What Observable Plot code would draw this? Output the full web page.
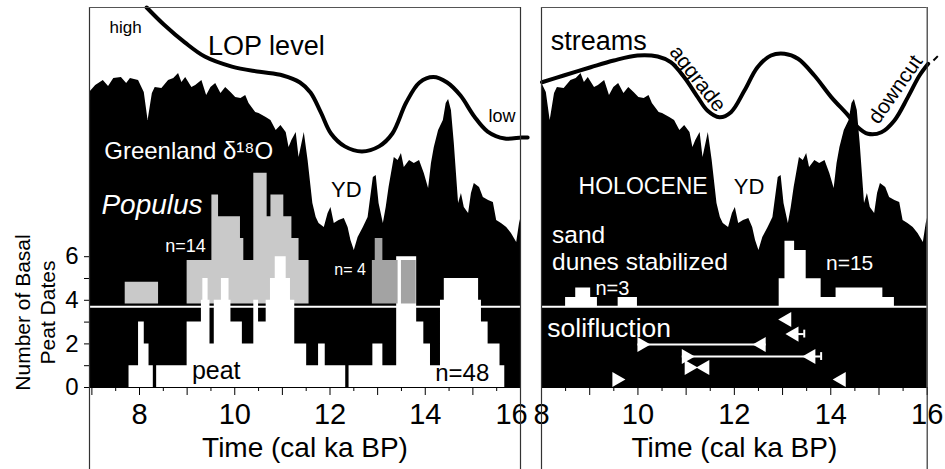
<!DOCTYPE html>
<html><head><meta charset="utf-8">
<script src="https://cdn.jsdelivr.net/npm/d3@7"></script>
<script src="https://cdn.jsdelivr.net/npm/@observablehq/plot@0.6"></script>
<style>
body{margin:0;background:#fff;}
#wrap{position:relative;width:945px;height:469px;overflow:hidden;background:#fff;}
#left,#right{position:absolute;top:0;}
#left{left:0;width:530px;} #right{left:530px;width:415px;}
</style></head><body><div id="wrap"><div id="left"></div><div id="right"></div></div>
<script>
// ---------- data ----------
// Greenland δ18O (drawn as relative height, same units as the count axis)
const greenlandAge = [6.95,7.08,7.24,7.35,7.46,7.62,7.73,7.81,7.98,8.10,8.18,8.27,8.33,8.47,8.61,8.72,8.82,8.89,8.97,9.10,9.18,9.31,9.41,9.50,9.60,9.71,9.81,9.92,10.02,10.13,10.23,10.30,10.44,10.51,10.66,10.76,10.87,10.97,11.08,11.14,11.20,11.29,11.35,11.46,11.54,11.64,11.71,11.77,11.88,11.96,12.02,12.09,12.19,12.30,12.38,12.44,12.51,12.59,12.70,12.80,12.91,12.97,13.03,13.12,13.18,13.24,13.35,13.43,13.50,13.56,13.67,13.77,13.88,13.98,14.07,14.13,14.19,14.28,14.38,14.44,14.49,14.55,14.61,14.70,14.76,14.82,14.91,14.97,15.03,15.14,15.22,15.33,15.43,15.50,15.60,15.71,15.81,15.92,15.98,16.02];
const greenlandTop = [13.53,13.85,14.08,13.81,14.17,14.22,13.94,14.17,14.08,13.53,12.25,13.49,13.76,13.72,14.08,14.17,14.40,13.99,14.22,13.76,13.85,14.08,13.39,13.76,13.94,13.49,13.76,13.53,13.30,13.26,13.39,13.03,12.61,12.57,12.39,12.25,11.79,12.02,11.70,11.01,11.33,11.70,10.55,11.70,10.41,8.44,7.80,7.52,7.34,7.98,8.26,7.52,7.66,7.75,7.34,6.74,6.28,6.88,7.34,7.80,9.63,9.72,8.44,7.52,8.26,9.17,10.55,10.41,10.73,10.09,10.41,10.28,10.41,9.82,9.13,10.28,11.01,11.79,12.25,13.03,13.21,12.71,11.19,8.44,8.90,8.26,7.98,8.90,9.36,9.17,8.72,8.58,8.49,7.66,7.52,7.34,7.06,6.65,7.52,7.89];

// LOP level curve (left) and streams curve (right)
const lopAge   = [8.15,8.51,8.95,9.37,9.94,10.52,11.01,11.37,11.59,11.81,12.02,12.31,12.67,13.03,13.31,13.60,13.88,14.17,14.46,14.74,15.03,15.31,15.67,16.02,16.15];
const lopLevel = [17.43,16.65,15.83,15.18,14.72,14.48,14.31,13.99,13.53,12.61,11.65,11.06,10.83,11.06,11.65,13.07,13.99,14.24,13.99,13.39,12.43,11.74,11.42,11.47,11.47];
const streamAge   = [8.01,8.46,9.02,9.50,9.99,10.41,10.68,10.96,11.24,11.44,11.69,11.93,12.21,12.48,12.76,13.04,13.32,13.66,14.01,14.36,14.56,14.77,15.05,15.32,15.60,15.84,16.02];
const streamLevel = [14.00,14.31,14.69,15.00,15.23,15.18,14.92,14.23,13.32,12.71,12.40,12.63,13.62,14.69,15.23,15.31,15.08,14.31,13.32,12.48,11.94,11.64,11.71,12.25,13.32,14.31,14.85];

// Populus histogram (light gray, n=14) and second group (dark gray, n=4)
const populusStart = [7.70,9.00,9.52,9.66,10.12,10.19,10.40,10.68,10.76,11.03,11.20,11.35];
const populusEnd   = [8.40,9.52,9.66,10.12,10.19,10.40,10.68,10.76,11.03,11.20,11.35,11.56];
const populusCount = [1,2,5,4,3,2,6,4,5,4,3,2];
const populus4Start = [12.89,12.95,13.11,13.50];
const populus4End   = [12.95,13.11,13.43,13.81];
const populus4Count = [2,3,2,2];

// Basal peat dates histogram (n=48)
const peatStart = [7.78,7.98,8.10,8.20,8.36,9.00,9.30,9.33,9.44,9.48,9.57,9.72,9.88,9.92,10.16,10.40,10.50,10.66,10.75,10.85,11.08,11.17,11.26,11.51,11.76,11.90,12.40,12.90,13.11,13.40,13.82,13.97,14.11,14.32,14.40,15.12,15.18,15.32,15.57];
const peatEnd   = [7.98,8.10,8.20,8.29,9.00,9.30,9.33,9.44,9.48,9.57,9.72,9.88,9.92,10.16,10.40,10.50,10.66,10.75,10.85,11.08,11.17,11.26,11.51,11.76,11.90,12.33,12.90,13.11,13.40,13.82,13.97,14.11,14.32,14.40,15.12,15.18,15.32,15.57,15.67];
const peatCount = [1,3,2,1,1,3,4,5,4,2,4,5,4,3,2,4,3,4,5,6,5,4,2,1,2,1,1,2,1,6,3,2,1,4,5,4,3,2,1];

// Sand dunes stabilized (n=3 and n=15)
const duneStart = [8.50,8.71,9.02,9.59,12.93,13.05,13.25,13.49,13.80,14.11,15.08];
const duneEnd   = [8.71,9.02,9.16,9.99,13.05,13.25,13.49,13.80,14.11,15.08,15.32];
const duneCount = [1,2,1,1,3,7,6,3,1,2,1];

// Solifluction: age ranges and limiting dates (row = vertical slot)
const solifSpanStart = [10.00,10.92,13.24];
const solifSpanEnd   = [12.66,13.80,13.45];
const solifSpanRow   = [1.97,1.42,2.45];
const solifMinAge = [10.08,11.00,11.06,9.56];     // ▶ markers
const solifMinRow = [1.97,1.42,0.92,0.37];
const solifMaxAge = [13.09,13.24,12.56,13.59,11.39,14.22]; // ◀ markers
const solifMaxRow = [3.12,2.45,1.97,1.42,0.92,0.37];

const leftDomain = [6.95, 16];
const rightDomain = [8, 16];
const yTop = 17.43;
const dividerLevel = 3.7;
const populusBase = 3.83;
const duneUnit = 0.43;
const labelTicks = [8,10,12,14,16];

// ---------- helpers ----------
const zipGreen = greenlandAge.map((a,i)=>({age:a, v:greenlandTop[i]}));
const zipLop = lopAge.map((a,i)=>({age:a, v:lopLevel[i]}));
const zipStream = streamAge.map((a,i)=>({age:a, v:streamLevel[i]}));
// turn binned counts into a step outline (zero between non-adjacent bins)
function steps(s, e, c){
  const pts = [];
  s.forEach((x,i)=>{
    pts.push({x, c:c[i]});
    if (i === s.length-1 || s[i+1] > e[i] + 1e-9) pts.push({x:e[i], c:0});
  });
  return pts;
}
const populus = steps(populusStart, populusEnd, populusCount);
const populus4 = steps(populus4Start, populus4End, populus4Count);
const peat = steps(peatStart, peatEnd, peatCount);
const dunes = steps(duneStart, duneEnd, duneCount);
const spans = solifSpanStart.map((s,i)=>({s, e:solifSpanEnd[i], r:solifSpanRow[i]}));
const minMarks = solifMinAge.map((a,i)=>({a, r:solifMinRow[i]}));
const maxMarks = solifMaxAge.map((a,i)=>({a, r:solifMaxRow[i]}));

const FONT = "'Liberation Sans', Arial, Helvetica, sans-serif";
const halfTicks = d3.range(7, 16.01, 0.5);
const txt = (s, x, y, o={}) => Plot.text([s], {x, y, textAnchor:"start", lineAnchor:"bottom", fill:"black", fontSize:20, ...o});

function xAxes(domain, lastLabelDx){
  const minor = halfTicks.filter(t=>t>=domain[0] && t<=domain[1]);
  return [
    Plot.ruleY([0], {stroke:"black", strokeWidth:1.2}),
    Plot.axisX({ticks: minor.filter(t=>t%1!==0), tickSize:4, tickFormat:()=>"", label:null}),
    Plot.axisX({ticks: minor.filter(t=>t%1===0), tickSize:8, tickFormat:()=>"", label:null}),
    Plot.axisX({ticks: labelTicks.filter(t=>t<16), tickSize:0, tickPadding:16, fontSize:29, label:null}),
    Plot.axisX({ticks: [16], tickSize:0, tickPadding:16, fontSize:29, label:null, dx:lastLabelDx}),
    Plot.text(["Time (cal ka BP)"], {frameAnchor:"bottom", dy:69, lineAnchor:"bottom", fontSize:28, fill:"black"})
  ];
}
function frame(domain){
  return [
    Plot.ruleX(domain, {stroke:"#333", strokeWidth:1.2, insetBottom:-90}),
    Plot.ruleY([yTop], {stroke:"#555", strokeWidth:1.2})
  ];
}

// ---------- left panel ----------
const left = Plot.plot({
  width:530, height:469, marginLeft:89, marginRight:10, marginTop:7, marginBottom:82,
  style:{fontFamily:FONT, background:"transparent", overflow:"visible"},
  x:{domain:leftDomain, axis:null}, y:{domain:[0,yTop], axis:null},
  marks:[
    Plot.areaY(zipGreen, {x:"age", y1:0, y2:"v", fill:"black", clip:true}),
    Plot.areaY(populus, {x:"x", y1:populusBase, y2:d=>populusBase+d.c, curve:"step-after", fill:"#c9c9c9"}),
    Plot.areaY(peat, {x:"x", y1:0, y2:"c", curve:"step-after", fill:"white"}),
    Plot.areaY(populus4, {x:"x", y1:populusBase, y2:d=>populusBase+d.c, curve:"step-after", fill:"#a3a3a3"}),
    Plot.ruleY([dividerLevel], {stroke:"white", strokeWidth:2}),
    Plot.line(zipLop, {x:"age", y:"v", curve:"catmull-rom", stroke:"black", strokeWidth:4}),
    Plot.axisY({ticks:[0,1,2,3,4,5,6], tickSize:5, tickPadding:6, fontSize:24, tickFormat:d=>d%2===0?d:"", label:null}),
    Plot.text(["Number of Basal\nPeat Dates"], {frameAnchor:"left", dx:-55, dy:115, rotate:-90, fontSize:21, lineHeight:1.2, textAnchor:"middle", lineAnchor:"middle", fill:"black"}),
    ...xAxes(leftDomain, -9),
    ...frame(leftDomain),
    txt("high", 7.37, 16.28, {fontSize:17}),
    txt("LOP level", 9.44, 15.27, {fontSize:27}),
    txt("low", 15.33, 12.16, {fontSize:18}),
    txt("Greenland δ¹⁸O", 7.26, 10.50, {fontSize:24, fill:"white"}),
    txt("YD", 12.02, 8.72, {fontSize:22}),
    txt("Populus", 7.20, 7.98, {fontSize:28, fontStyle:"italic", fill:"white"}),
    txt("n=14", 8.54, 6.21, {fontSize:18, fill:"white"}),
    txt("n= 4", 12.09, 5.14, {fontSize:16, fill:"white"}),
    txt("peat", 9.10, 0.41, {fontSize:25}),
    txt("n=48", 14.21, 0.28, {fontSize:24})
  ]
});
document.getElementById("left").append(left);

// ---------- right panel ----------
const right = Plot.plot({
  width:415, height:469, marginLeft:11, marginRight:18.3, marginTop:7, marginBottom:82,
  style:{fontFamily:FONT, background:"transparent", overflow:"visible"},
  x:{domain:rightDomain, axis:null}, y:{domain:[0,yTop], axis:null},
  marks:[
    Plot.areaY(zipGreen, {x:"age", y1:0, y2:"v", fill:"black", clip:true}),
    Plot.areaY(dunes, {x:"x", y1:dividerLevel, y2:d=>dividerLevel+d.c*duneUnit, curve:"step-after", fill:"white"}),
    Plot.ruleY([dividerLevel], {stroke:"white", strokeWidth:2}),
    Plot.ruleY(spans, {y:"r", x1:"s", x2:"e", stroke:"white", strokeWidth:2}),
    Plot.ruleX(spans.slice(1), {x:"e", y1:d=>d.r-0.18, y2:d=>d.r+0.18, stroke:"white", strokeWidth:2}),
    Plot.dot(minMarks, {x:"a", y:"r", symbol:"triangle", rotate:90, r:5.6, fill:"white", stroke:"none"}),
    Plot.dot(maxMarks, {x:"a", y:"r", symbol:"triangle", rotate:-90, r:5.6, fill:"white", stroke:"none"}),
    Plot.line(zipStream, {x:"age", y:"v", curve:"catmull-rom", stroke:"black", strokeWidth:4}),
    Plot.link([0], {x1:16.13, y1:15.0, x2:16.22, y2:15.2, stroke:"black", strokeWidth:2}),
    ...xAxes(rightDomain, 0),
    ...frame(rightDomain),
    txt("streams", 8.19, 15.46, {fontSize:27}),
    txt("aggrade", 11.24, 14.17, {fontSize:21, rotate:52, textAnchor:"middle", lineAnchor:"middle"}),
    txt("downcut", 15.34, 13.67, {fontSize:21, rotate:-55, textAnchor:"middle", lineAnchor:"middle"}),
    txt("HOLOCENE", 8.77, 8.88, {fontSize:23, fill:"white"}),
    txt("YD", 11.99, 8.88, {fontSize:22}),
    txt("sand\ndunes stabilized", 8.22, 5.37, {fontSize:24.5, lineHeight:1.14, fill:"white"}),
    txt("n=3", 9.12, 4.22, {fontSize:20, fill:"white"}),
    txt("n=15", 13.90, 5.37, {fontSize:21, fill:"white"}),
    txt("solifluction", 8.12, 2.31, {fontSize:26.5, fill:"white"})
  ]
});
document.getElementById("right").append(right);
</script></body></html>
